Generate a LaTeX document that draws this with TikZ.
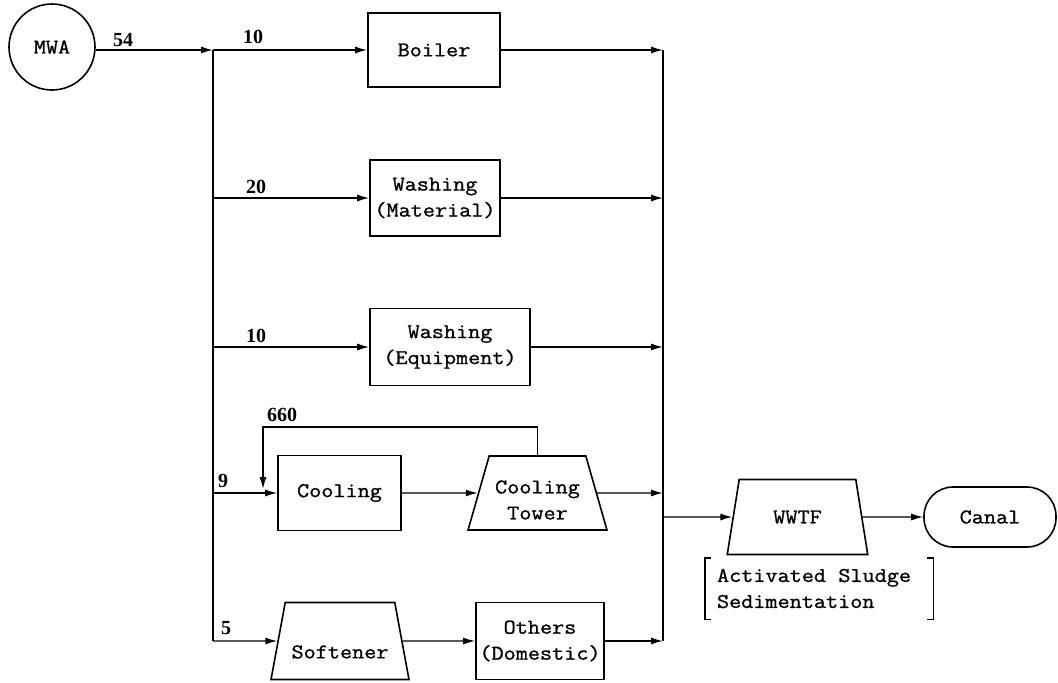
\documentclass[tikz,border=0pt]{standalone}
\usepackage{fontspec}
\setmonofont[FakeStretch=1.12,FakeBold=1]{Latin Modern Mono}
\newfontfamily\numfont{Liberation Serif}
\usetikzlibrary{shapes.geometric,arrows.meta}
\begin{document}
\begin{tikzpicture}[x=1pt,y=-1pt,
  line/.style={line width=1.4pt},
  bus/.style={line width=1.8pt},
  arr/.style={line width=1.4pt,-{Latex[length=12pt,width=7pt]}},
  box/.style={draw,line width=1.6pt,rectangle,inner sep=0pt,font=\ttfamily\fontsize{21}{26}\selectfont,align=center},
  trap/.style={draw,line width=1.6pt,trapezium,trapezium angle=71,trapezium stretches=true,inner sep=1pt,font=\ttfamily\fontsize{21}{26}\selectfont,align=center},
  txt/.style={font=\ttfamily\fontsize{21}{26}\selectfont,align=center,inner sep=0pt},
  num/.style={font=\numfont\bfseries\fontsize{20}{24}\selectfont,inner sep=0pt}]
\useasboundingbox[fill=white] (0,0) rectangle (1058,683);

% bus coordinates
\coordinate (lb1) at (213,50);
\coordinate (lb2) at (213,198);
\coordinate (lb3) at (213,347);
\coordinate (lb4) at (213,493);
\coordinate (lb5) at (213,641);
\coordinate (rb1) at (663,50);
\coordinate (rb2) at (663,198);
\coordinate (rb3) at (663,347);
\coordinate (rb4) at (663,493);
\coordinate (rb5) at (663,641);
\coordinate (rbw) at (663,517);
\coordinate (rc2) at (263,427);
\coordinate (rc3) at (263,489);

% nodes
\node[draw,circle,line width=1.6pt,minimum size=86pt,inner sep=0pt,font=\ttfamily\fontsize{21}{24}\selectfont] (mwa) at (52,47) {MWA};
\node[box,minimum width=132pt,minimum height=74pt] (boiler) at (434,50) {Boiler};
\node[box,minimum width=130pt,minimum height=76pt] (wmat) at (435,198) {Washing\\(Material)};
\node[box,minimum width=160pt,minimum height=77pt] (weq) at (450,347) {Washing\\(Equipment)};
\node[box,minimum width=123pt,minimum height=75pt] (cool) at (339.5,493) {Cooling};
\node[trap,minimum width=139pt,minimum height=74pt] (tower) at (537.5,493) {\rule{0pt}{27pt}Cooling\\Tower};
\node[trap,minimum width=138pt,minimum height=77pt] (soft) at (340,641) {\rule{0pt}{35pt}Softener};
\node[box,minimum width=128pt,minimum height=77pt] (others) at (540,641) {Others\\(Domestic)};
\node[trap,minimum width=141pt,minimum height=75pt] (wwtf) at (797.5,517) {WWTF};
\node[draw,line width=1.6pt,rectangle,rounded corners=29pt,minimum width=132pt,minimum height=60pt,font=\ttfamily\fontsize{21}{26}\selectfont,inner sep=0pt] (canal) at (990,517) {Canal};
\node[txt,align=left,text width=204pt,inner xsep=12pt,minimum height=61pt] (sludge) at (819,588.5) {Activated\hspace*{12.35pt}Sludge\\Sedimentation};

% brackets
\draw[line] ([xshift=6pt]sludge.north west) -- (sludge.north west) -- (sludge.south west) -- ([xshift=6pt]sludge.south west);
\draw[line] ([xshift=-6pt]sludge.north east) -- (sludge.north east) -- (sludge.south east) -- ([xshift=-6pt]sludge.south east);

% labels
\node[num] (n54) at (123,40) {54};
\node[num] (n10a) at (253,37) {10};
\node[num] (n20) at (256,187) {20};
\node[num] (n10b) at (256,336) {10};
\node[num] (n660) at (282,415) {660};
\node[num] (n9) at (223,481) {9};
\node[num] (n5) at (226,628) {5};

% connectors
\draw[arr] (mwa.east |- lb1) -- (lb1);
\draw[bus] (lb1) -- (lb5);
\draw[arr] (lb1) -- (boiler);
\draw[arr] (lb2) -- (wmat);
\draw[arr] (lb3) -- (weq);
\draw[arr] (lb4) -- (cool);
\draw[arr] (lb5) -- (soft);
\draw[arr] (boiler) -- (rb1);
\draw[arr] (wmat) -- (rb2);
\draw[arr] (weq) -- (rb3);
\draw[arr] (cool) -- (tower);
\draw[arr] (tower) -- (rb4);
\draw[arr] (soft) -- (others);
\draw[arr] (others) -- (rb5);
\draw[bus] (rb1) -- (rb5);
\draw[arr] (rbw) -- (wwtf);
\draw[arr] (wwtf) -- (canal);
\draw[arr] (tower.north) |- (rc2) -- (rc3);
\end{tikzpicture}
\end{document}
